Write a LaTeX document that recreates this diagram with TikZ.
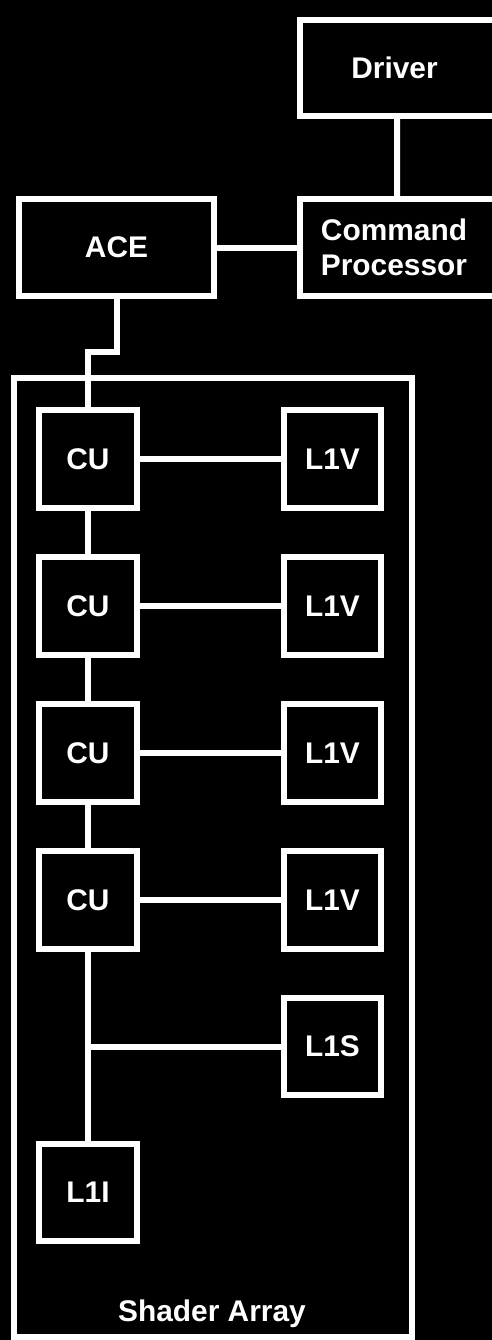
\documentclass[tikz,border=0pt]{standalone}
\usepackage{fontspec}
\setmainfont{Liberation Sans}
\usetikzlibrary{positioning}
\tikzset{>=stealth}

\begin{document}
\begin{tikzpicture}[x=0.02cm, y=-0.02cm,
  lbl/.style={text=white, font=\fontsize{17}{20}\selectfont\bfseries, align=center, inner sep=0pt},
  blk/.style={draw=white, line width=0.12cm, lbl, minimum width=1.96cm, minimum height=1.96cm},
  wire/.style={draw=white, line width=0.12cm}]
\fill[black] (0,0) rectangle (492,1340);
\useasboundingbox (0,0) rectangle (492,1340);
\clip (0,0) rectangle (492,1340);
% top part
\node[blk, minimum width=3.96cm, minimum height=1.92cm,
  label={[lbl, xshift=-0.09cm]center:Driver}] (drv) at (399,68) {};
\node[blk, minimum width=3.96cm, minimum height=1.94cm,
  label={[lbl, xshift=-0.1cm]center:Command\\Processor}] (cp) at (399,247.5) {};
\node[blk, minimum width=3.9cm, minimum height=1.94cm] (ace) at (116.5,247.5) {ACE};
\draw[wire] (drv.south) ++(-0.04cm,0) -- (cp.north -| {(397,0)});
\draw[wire] (ace.east) -- (cp.west);
% shader array
\node[blk, minimum width=7.96cm, minimum height=19.18cm] (sa) at (213,857.5) {};
\node[lbl] (salbl) at (212,1314) {Shader Array};
\foreach \i in {1,...,4} {
  \node[blk] (cu\i) at (88,{459+147*(\i-1)}) {CU};
  \node[blk] (l1v\i) at (332.5,{459+147*(\i-1)}) {L1V};
  \draw[wire] (cu\i.east) -- (l1v\i.west);
}
\foreach \i [evaluate=\i as \j using int(\i+1)] in {1,2,3}
  \draw[wire] (cu\i.south) -- (cu\j.north);
\node[blk, minimum height=1.94cm] (l1s) at (332.5,1046.5) {L1S};
\node[blk, minimum height=1.94cm] (l1i) at (88,1192.5) {L1I};
\draw[wire] (ace.south) -- (ace.south |- 0,352) -| (cu1.north);
\draw[wire] (cu4.south) -- (l1i.north);
\draw[wire] (cu4.south |- l1s.west) -- (l1s.west);
\end{tikzpicture}
\end{document}
